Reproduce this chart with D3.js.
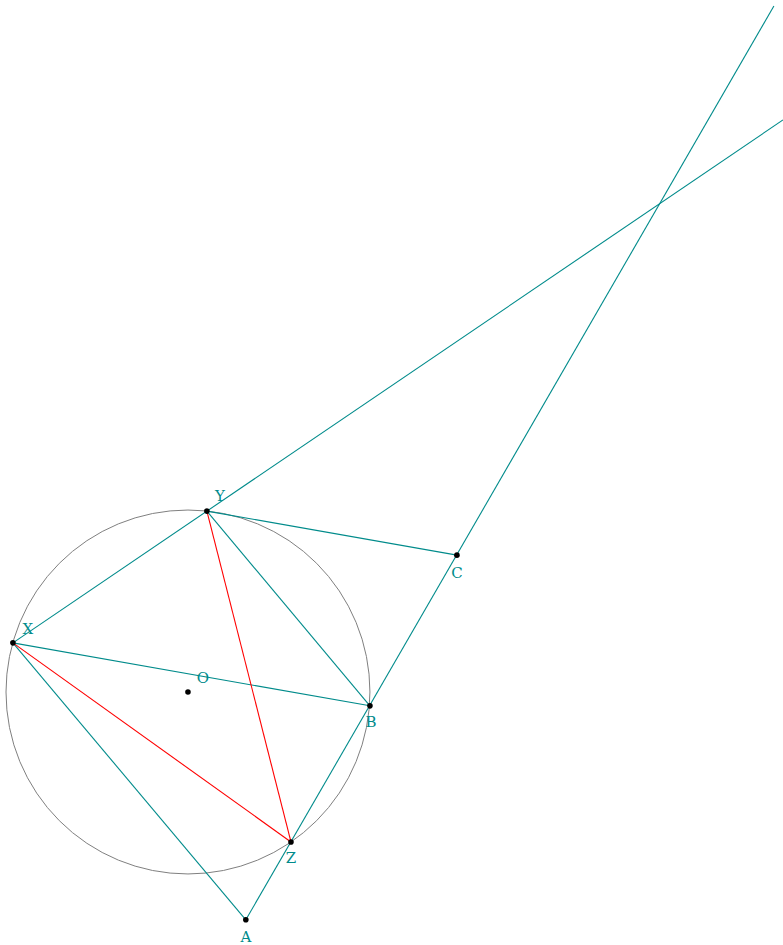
<!DOCTYPE html>
<html><head><meta charset="utf-8">
<script src="https://cdn.jsdelivr.net/npm/d3@7"></script>
<style>body{margin:0;background:#fff}svg{display:block}</style>
</head><body>
<script>
// Geometry data (units: circle radius = 5, centre O at origin, y up)
const pointNames = ["O","X","Y","B","Z","A","C"];
const pointX = [0, -4.81, 0.52, 5.0, 2.83, 1.59, 7.39];
const pointY = [0, 1.35, 4.97, -0.38, -4.12, -6.26, 3.76];
const labelDx = [15, 15, 13, 1, 0, 0, 0];
const labelDy = [-9, -9, -10, 21, 21, 22, 23];
const circleR = 5;
// far ends of the extended lines
const extNames = ["P","Q"];
const extX = [16.1, 16.35];
const extY = [18.85, 15.72];
const tealSegs = [["X","Q"],["A","P"],["Y","C"],["Y","B"],["X","B"],["X","A"]];
const redSegs = [["X","Z"],["Y","Z"]];

const W = 783, H = 945;
const x = d3.scaleLinear().domain([-5, 16.35]).range([6, 783]);
const k = (783 - 6) / 21.35;
const y = d3.scaleLinear().domain([0, 1]).range([692, 692 - k]);

const pts = {};
pointNames.forEach((n,i)=>pts[n]={x:pointX[i],y:pointY[i]});
extNames.forEach((n,i)=>pts[n]={x:extX[i],y:extY[i]});

const svg = d3.select("body").append("svg").attr("width",W).attr("height",H);
svg.append("circle").attr("cx",x(0)).attr("cy",y(0)).attr("r",x(circleR)-x(0))
  .attr("fill","none").attr("stroke","#808080").attr("stroke-width",1);

const teal = "#008b8b";
svg.selectAll("line.t").data(tealSegs).join("line").attr("class","t")
  .attr("x1",d=>x(pts[d[0]].x)).attr("y1",d=>y(pts[d[0]].y))
  .attr("x2",d=>x(pts[d[1]].x)).attr("y2",d=>y(pts[d[1]].y))
  .attr("stroke",teal).attr("stroke-width",1.1);
svg.selectAll("line.r").data(redSegs).join("line").attr("class","r")
  .attr("x1",d=>x(pts[d[0]].x)).attr("y1",d=>y(pts[d[0]].y))
  .attr("x2",d=>x(pts[d[1]].x)).attr("y2",d=>y(pts[d[1]].y))
  .attr("stroke","#ff0000").attr("stroke-width",1.1);

svg.selectAll("circle.p").data(pointNames).join("circle").attr("class","p")
  .attr("cx",d=>x(pts[d].x)).attr("cy",d=>y(pts[d].y)).attr("r",2.8).attr("fill","#000");

svg.selectAll("text.l").data(pointNames).join("text").attr("class","l")
  .attr("x",(d,i)=>x(pts[d].x)+labelDx[i]).attr("y",(d,i)=>y(pts[d].y)+labelDy[i])
  .attr("text-anchor","middle").attr("font-family","'DejaVu Serif', serif").attr("font-size",15)
  .attr("fill",teal).text(d=>d);
</script>
</body></html>
